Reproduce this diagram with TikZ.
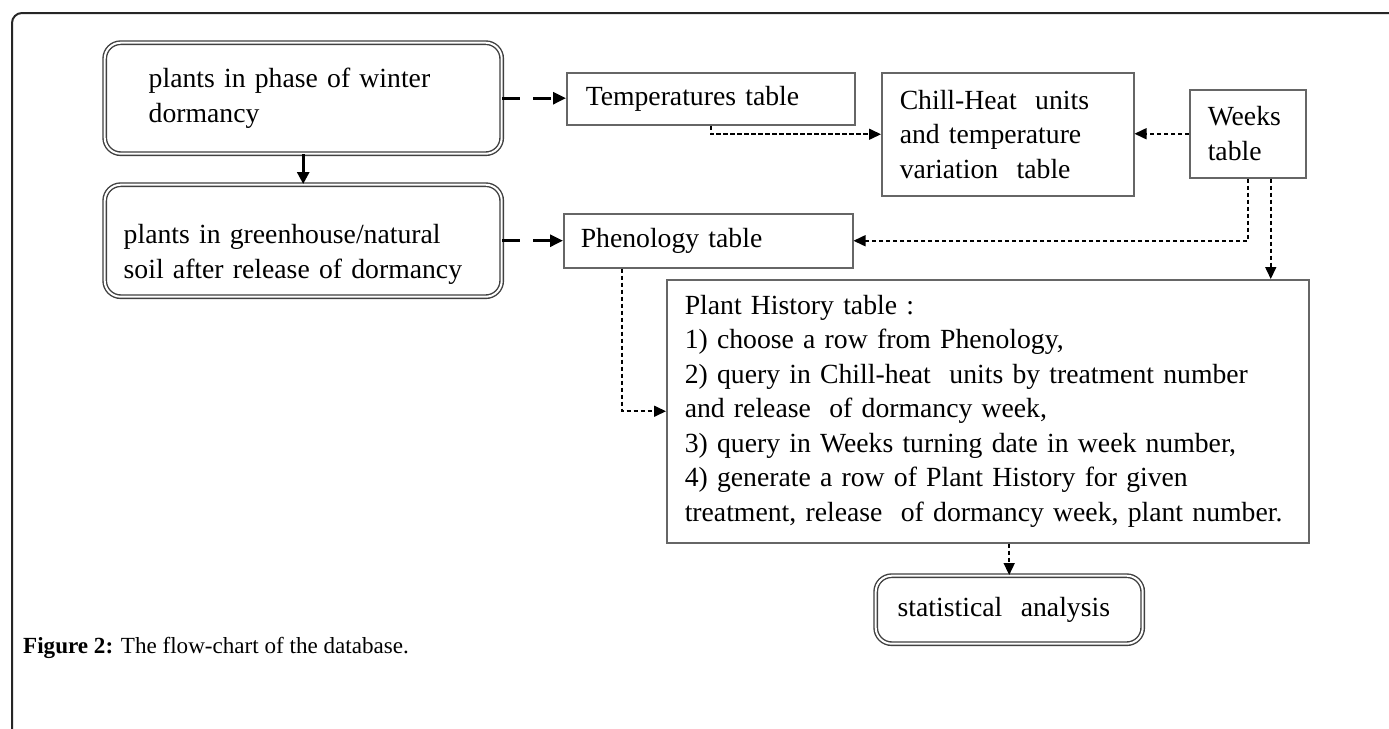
\documentclass[tikz,border=0pt]{standalone}
\usepackage{fontspec}
\setmainfont{Liberation Serif}
\usetikzlibrary{arrows.meta,calc}
\hyphenpenalty=10000
\exhyphenpenalty=10000
\tikzset{
  dfont/.style={font=\fontsize{27.7}{34.5}\selectfont},
  roundbox/.style={dfont, draw=black!75, line width=1.4pt, double=white, double distance=2pt,
    rounded corners=16pt, align=left, inner ysep=0pt, anchor=north west},
  tablebox/.style={dfont, draw=black!60, line width=1.5pt, align=left, inner ysep=0pt, anchor=north west},
  thinarrow/.style={draw=black, line width=1.6pt, dash pattern=on 4.5pt off 2.5pt,
    -{Triangle[length=12pt,width=11pt]}},
  thickarrow/.style={draw=black, line width=2.8pt, dash pattern=on 18pt off 13pt,
    -{Triangle[length=13pt,width=12pt]}},
  solidarrow/.style={draw=black, line width=2.8pt, -{Triangle[length=12pt,width=12pt]}},
}
\begin{document}
\begin{tikzpicture}[x=1pt,y=-1pt]
\useasboundingbox (0,0) rectangle (1389,728);
\fill[white] (0,0) rectangle (1389,728);
% outer frame
\draw[line width=2pt, black!85, rounded corners=10pt] (12,740) -- (12,13) -- (1400,13);

% nodes
\node[roundbox, minimum width=397, minimum height=111, text width=309, inner xsep=44] (A) at (104,42)
  {plants in phase of winter\\dormancy};
\node[roundbox, minimum width=397, minimum height=112, text width=359, inner xsep=19] (B) at (104,184)
  {\rule{0pt}{47pt}plants in greenhouse/natural\\soil after release of dormancy};
\node[tablebox, minimum width=288, minimum height=52, text width=250, inner xsep=19] (T) at (566,72)
  {Temperatures table};
\node[tablebox, minimum width=252, minimum height=123, text width=216, inner xsep=18] (C) at (881,72)
  {Chill-Heat\ \ units\\and temperature\\variation\ \ table};
\node[tablebox, minimum width=116, minimum height=88, text width=80, inner xsep=18] (W) at (1189,89)
  {Weeks\\table};
\node[tablebox, minimum width=289, minimum height=54, text width=255, inner xsep=17] (P) at (563,213)
  {Phenology table};
\node[tablebox, minimum width=642, minimum height=263, text width=606, inner xsep=18] (H) at (666,279)
  {Plant History table :\\
   1) choose a row from Phenology,\\
   2) query in Chill-heat\ \ units by treatment number\\
   and release\ \ of dormancy week,\\
   3) query in Weeks turning date in week number,\\
   4) generate a row of Plant History for given\\
   treatment, release\ \ of dormancy week, plant number.};
\node[roundbox, minimum width=267, minimum height=68, text width=223, inner xsep=22] (S) at (875,575)
  {statistical\ \ analysis};

% caption
\node[anchor=west, font=\fontsize{23.1}{27}\selectfont, inner sep=0pt] (cap) at (23,648)
  {\textbf{Figure 2:} The flow-chart of the database.};

% connectors
\draw[solidarrow] (A.south) -- (B.north);
\draw[thickarrow] (A.east) -- (A.east -| T.west);
\draw[thickarrow] (B.east) -- (B.east -| P.west);
\draw[thinarrow] (T.south) |- (C.west);
\draw[thinarrow] (W.west) -- (W.west -| C.east);
\draw[thinarrow] (W.south) |- (P.east);
\draw[thinarrow] ([xshift=23pt]W.south) -- ([xshift=23pt]W.south |- H.north);
\draw[thinarrow] ([xshift=-86pt]P.south) |- (H.west);
\draw[thinarrow] (H.south -| S.north) -- (S.north);
\end{tikzpicture}
\end{document}
